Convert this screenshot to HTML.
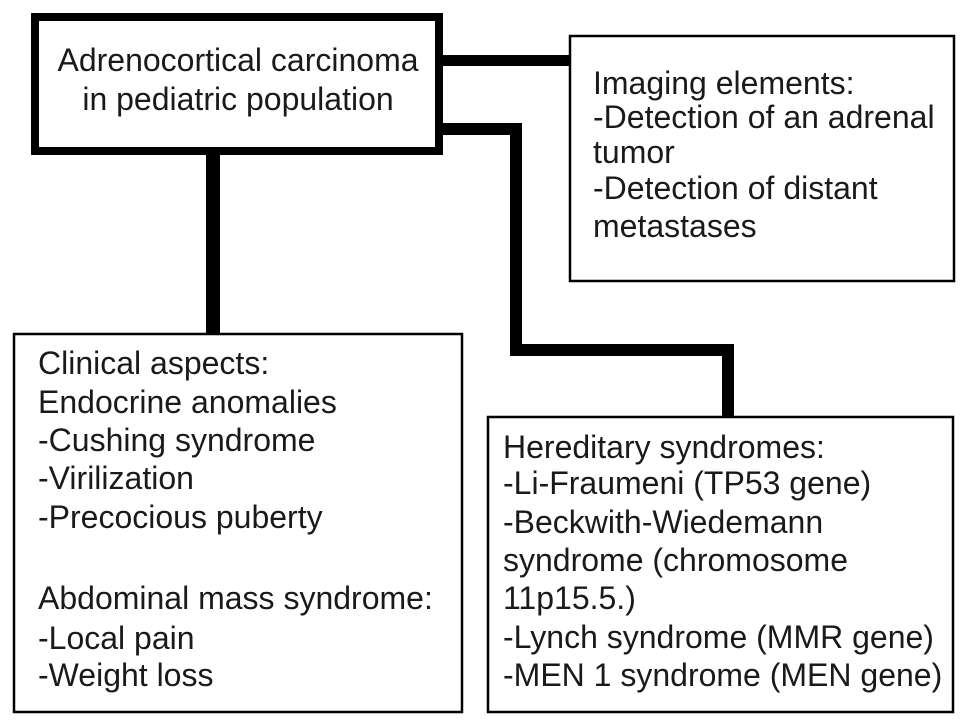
<!DOCTYPE html>
<html><head><meta charset="utf-8"><style>
html,body{margin:0;padding:0;background:#fff;}
svg{display:block;}
text{font-family:"Liberation Sans",Arial,sans-serif;font-size:32px;fill:#1a1a1a;}
</style></head><body>
<svg width="969" height="728" viewBox="0 0 969 728" xmlns="http://www.w3.org/2000/svg">
<rect x="0" y="0" width="969" height="728" fill="#fff"/>
<!-- connectors -->
<rect x="440" y="55" width="132" height="11" fill="#000"/>
<rect x="206" y="150" width="14" height="185" fill="#000"/>
<polyline points="440,129 516,129 516,350 728,350 728,418" fill="none" stroke="#000" stroke-width="12"/>
<!-- top box -->
<rect x="35" y="17" width="404" height="134" fill="#fff" stroke="#000" stroke-width="8"/>
<text x="238" y="71" text-anchor="middle">Adrenocortical carcinoma</text>
<text x="238" y="110" text-anchor="middle">in pediatric population</text>
<!-- imaging -->
<rect x="570" y="36" width="384" height="245" fill="#fff" stroke="#000" stroke-width="2.5"/>
<text x="593" y="94">Imaging elements:</text>
<text x="593" y="128">-Detection of an adrenal</text>
<text x="593" y="163">tumor</text>
<text x="593" y="199">-Detection of distant</text>
<text x="593" y="237">metastases</text>
<!-- clinical -->
<rect x="14" y="334" width="448" height="378" fill="#fff" stroke="#000" stroke-width="2.5"/>
<text x="38" y="374">Clinical aspects:</text>
<text x="38" y="413">Endocrine anomalies</text>
<text x="38" y="451">-Cushing syndrome</text>
<text x="38" y="489">-Virilization</text>
<text x="38" y="528">-Precocious puberty</text>
<text x="38" y="609">Abdominal mass syndrome:</text>
<text x="38" y="649">-Local pain</text>
<text x="38" y="686">-Weight loss</text>
<!-- hereditary -->
<rect x="488" y="417" width="465" height="295" fill="#fff" stroke="#000" stroke-width="2.5"/>
<text x="503" y="458">Hereditary syndromes:</text>
<text x="503" y="494">-Li-Fraumeni (TP53 gene)</text>
<text x="503" y="533">-Beckwith-Wiedemann</text>
<text x="503" y="571">syndrome (chromosome</text>
<text x="503" y="609">11p15.5.)</text>
<text x="503" y="648">-Lynch syndrome (MMR gene)</text>
<text x="503" y="686">-MEN 1 syndrome (MEN gene)</text>
</svg>
</body></html>
